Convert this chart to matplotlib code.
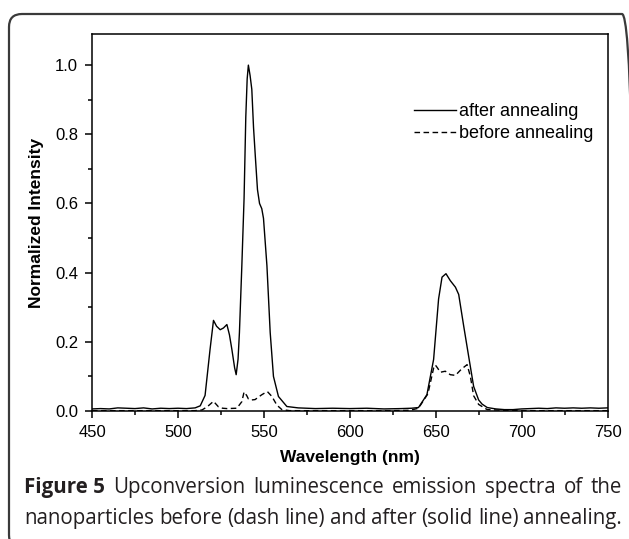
import matplotlib
matplotlib.use("Agg")
import matplotlib.pyplot as plt
from matplotlib.patches import FancyBboxPatch
from matplotlib.ticker import MultipleLocator

# after annealing (solid line)
wl_after = [450, 455, 460, 465, 470, 475, 480, 485, 490, 495, 500, 505, 510,
            513, 515.8, 518.7, 520.7, 522.5, 524.6, 526.5, 528.5, 530, 531.4,
            533, 533.9, 535, 535.8, 537.2, 538.5, 539.5, 540.3, 541, 542, 543,
            544, 545, 546.3, 547.5, 548.8, 549.8, 551.8, 553.7, 555.6, 558.5,
            563.4, 570, 580, 590, 600, 610, 620, 630, 636, 640, 644.9, 648.8,
            651.7, 653.7, 656, 658.5, 661.5, 663.4, 666.3, 669.2, 672.1, 675,
            677, 680, 685, 690, 695, 700, 705, 710, 715, 720, 725, 730, 735,
            740, 745, 750]
int_after = [0.006, 0.007, 0.006, 0.009, 0.008, 0.007, 0.009, 0.006, 0.008,
             0.007, 0.008, 0.007, 0.009,
             0.015, 0.045, 0.178, 0.262, 0.245, 0.235, 0.240, 0.250, 0.220,
             0.178, 0.125, 0.105, 0.150, 0.227, 0.420, 0.615, 0.850, 0.960,
             1.000, 0.970, 0.930, 0.820, 0.740, 0.640, 0.600, 0.585, 0.557,
             0.420, 0.227, 0.100, 0.042, 0.013, 0.009, 0.007, 0.008, 0.007,
             0.008, 0.006, 0.007, 0.008, 0.010, 0.047, 0.149, 0.324, 0.387,
             0.397, 0.377, 0.358, 0.337, 0.246, 0.158, 0.071, 0.032, 0.020,
             0.010, 0.006, 0.004, 0.004, 0.006, 0.007, 0.008, 0.007, 0.009,
             0.008, 0.009, 0.008, 0.009, 0.008, 0.009]

# before annealing (dash line)
wl_before = [450, 460, 470, 480, 490, 500, 510, 514, 517, 520.7, 523.6, 526,
             528.5, 534.3, 537.2, 538.5, 540, 541, 543, 544.9, 546.8, 548.8,
             550.5, 552.1, 554.7, 557.6, 560.5, 565, 575, 590, 610, 625, 635,
             640, 645.5, 648.8, 649.8, 651, 652.7, 655.6, 658.5, 661.5, 664.4,
             666.5, 668.3, 670.2, 672.1, 675, 680, 690, 700, 710, 730, 750]
int_before = [0.001, 0.001, 0.001, 0.001, 0.001, 0.001, 0.001, 0.003, 0.012,
              0.028, 0.012, 0.008, 0.007, 0.008, 0.027, 0.055, 0.045, 0.035,
              0.032, 0.033, 0.040, 0.047, 0.052, 0.056, 0.042, 0.017, 0.004,
              0.001, 0.001, 0.001, 0.001, 0.001, 0.002, 0.008, 0.050, 0.124,
              0.133, 0.125, 0.112, 0.115, 0.105, 0.103, 0.118, 0.127, 0.134,
              0.100, 0.044, 0.019, 0.004, 0.002, 0.001, 0.001, 0.001, 0.001]

caption_lines = [
    [("Figure 5", "bold"), ("Upconversion", "normal"), ("luminescence", "normal"),
     ("emission", "normal"), ("spectra", "normal"), ("of", "normal"), ("the", "normal")],
    [("nanoparticles", "normal"), ("before", "normal"), ("(dash", "normal"),
     ("line)", "normal"), ("and", "normal"), ("after", "normal"), ("(solid", "normal"),
     ("line)", "normal"), ("annealing.", "normal")],
]

plt.rcParams['font.family'] = ['Liberation Sans', 'DejaVu Sans']

fig = plt.figure(figsize=(6.29, 5.39), dpi=100)
W, H = 629, 539

# rounded frame, running off the right and bottom edges
frame = FancyBboxPatch((9 / W, (H - 548) / H), 626 / W, 534 / H,
                       boxstyle="round,pad=0,rounding_size=%f" % (13 / W),
                       mutation_aspect=W / H,
                       transform=fig.transFigure, facecolor='none',
                       edgecolor='#3a3a3a', linewidth=1.6, zorder=0)
fig.patches.append(frame)

ax = fig.add_axes([92 / W, (H - 411) / H, (607.5 - 92) / W, (411 - 34) / H])
ax.plot(wl_after, int_after, color='black', lw=1.0, label='after annealing')
ax.plot(wl_before, int_before, color='black', lw=1.0, ls=(0, (4, 2.5)),
        label='before annealing')

ax.set_xlim(450, 750)
ax.set_ylim(0, 1.09)
ax.xaxis.set_major_locator(MultipleLocator(50))
ax.xaxis.set_minor_locator(MultipleLocator(25))
ax.yaxis.set_major_locator(MultipleLocator(0.2))
ax.yaxis.set_minor_locator(MultipleLocator(0.1))
ax.yaxis.set_major_formatter(plt.FormatStrFormatter('%.1f'))
ax.tick_params(which='major', direction='out', length=5, width=1.1,
               labelsize=12, pad=5)
ax.tick_params(which='minor', direction='out', length=3, width=1.1)
for s in ax.spines.values():
    s.set_linewidth(1.1)

ax.set_xlabel('Wavelength (nm)', fontsize=12.5, fontweight='bold', labelpad=7)
ax.set_ylabel('Normalized Intensity', fontsize=12.5, fontweight='bold', labelpad=8)

ax.legend(loc='upper right', bbox_to_anchor=(1.005, 0.86), frameon=False,
          fontsize=13, handlelength=2.3, handletextpad=0.2, labelspacing=0.3)

# justified two-line caption
renderer = fig.canvas.get_renderer()
left, right = 24, 622
baselines = [H - 493, H - 524]
for words, yb in zip(caption_lines, baselines):
    texts = []
    for w, wt in words:
        t = fig.text(0, yb / H, w, fontsize=14.8, fontweight=wt,
                     family=['Open Sans', 'DejaVu Sans'], color='#231f20',
                     va='baseline', ha='left')
        texts.append(t)
    widths = [t.get_window_extent(renderer).width for t in texts]
    gap = (right - left - sum(widths)) / (len(texts) - 1)
    x = left
    for t, wdt in zip(texts, widths):
        t.set_x(x / W)
        x += wdt + gap

fig.savefig('out.png', dpi=100)
